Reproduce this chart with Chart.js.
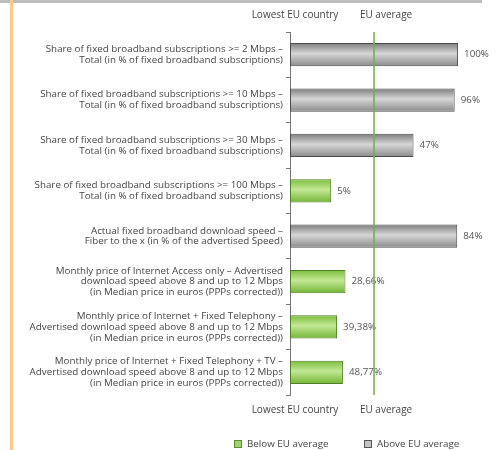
<!DOCTYPE html>
<html>
<head>
<meta charset="utf-8">
<script src="https://cdn.jsdelivr.net/npm/chart.js@4/dist/chart.umd.min.js"></script>
<style>
  html, body { margin: 0; padding: 0; background: #fff; }
  #wrap { width: 495px; height: 450px; position: relative; }
</style>
</head>
<body>
<div id="wrap"><canvas id="chart"></canvas></div>
<script>
'use strict'

// Data
const categories = [
    ['Share of fixed broadband subscriptions >= 2 Mbps –', 'Total (in % of fixed broadband subscriptions)'],
    ['Share of fixed broadband subscriptions >= 10 Mbps –', 'Total (in % of fixed broadband subscriptions)'],
    ['Share of fixed broadband subscriptions >= 30 Mbps –', 'Total (in % of fixed broadband subscriptions)'],
    ['Share of fixed broadband subscriptions >= 100 Mbps –', 'Total (in % of fixed broadband subscriptions)'],
    ['Actual fixed broadband download speed –', 'Fiber to the x (in % of the advertised Speed)'],
    ['Monthly price of Internet Access only – Advertised', 'download speed above 8 and up to 12 Mbps', '(in Median price in euros (PPPs corrected))'],
    ['Monthly price of Internet + Fixed Telephony –', 'Advertised download speed above 8 and up to 12 Mbps', '(in Median price in euros (PPPs corrected))'],
    ['Monthly price of Internet + Fixed Telephony + TV –', 'Advertised download speed above 8 and up to 12 Mbps', '(in Median price in euros (PPPs corrected))']
];
// position on the scale: 0 = lowest EU country, 100 = EU average
const scores = [200, 196, 147, 49, 199, 66, 56, 63];
const valueLabels = ['100%', '96%', '47%', '5%', '84%', '28,66%', '39,38%', '48,77%'];
const euAverage = 100;
const axisCaptions = ['Lowest EU country', 'EU average'];
const legendItems = ['Below EU average', 'Above EU average'];

const FONT = '"Open Sans", "Noto Sans", sans-serif';
const TEXT = '#464646';
const BAR_PCT = 0.51;

const isBelow = i => scores[i] < euAverage;

function barFill(ctx) {
    const chart = ctx.chart;
    const area = chart.chartArea;
    const below = isBelow(ctx.dataIndex);
    if (!area || !chart.scales.y) return below ? '#9fd46a' : '#aaa';
    const yc = chart.scales.y.getPixelForValue(ctx.dataIndex);
    const h = (area.bottom - area.top) / categories.length * BAR_PCT;
    const g = chart.ctx.createLinearGradient(0, yc - h / 2, 0, yc + h / 2);
    if (below) {
        g.addColorStop(0, '#7cbf3c');
        g.addColorStop(0.45, '#c2e895');
        g.addColorStop(1, '#73b534');
    } else {
        g.addColorStop(0, '#7d7d7d');
        g.addColorStop(0.45, '#d6d6d6');
        g.addColorStop(1, '#8a8a8a');
    }
    return g;
}

// frame, captions, EU line, values and legend
const decorations = {
    id: 'decorations',
    beforeDraw(chart) {
        const c = chart.ctx;
        c.save();
        c.fillStyle = '#bdbdbd';
        c.fillRect(0, 0, 482, 3);
        c.fillStyle = '#ffc98c';
        c.fillRect(10, 0, 3, chart.height);
        c.restore();
    },
    afterDatasetsDraw(chart) {
        const c = chart.ctx;
        const x = chart.scales.x;
        const area = chart.chartArea;
        const meta = chart.getDatasetMeta(0);
        c.save();
        c.font = '9.8px ' + FONT;
        c.fillStyle = '#555';
        c.textBaseline = 'middle';
        c.textAlign = 'left';
        meta.data.forEach((bar, i) => {
            c.fillText(valueLabels[i], bar.x + 6, bar.y);
        });

        const xe = x.getPixelForValue(euAverage);
        c.strokeStyle = '#6cb33e';
        c.lineWidth = 1.5;
        c.beginPath();
        c.moveTo(xe, area.top);
        c.lineTo(xe, area.bottom);
        c.stroke();

        const x0 = x.getPixelForValue(0);
        c.font = '10px ' + FONT;
        c.fillStyle = TEXT;
        c.textAlign = 'center';
        [15, area.bottom + 15].forEach(y => {
            c.fillText(axisCaptions[0], x0 + 5, y);
            c.fillText(axisCaptions[1], xe + 12, y);
        });

        // legend
        const ly = 444;
        const items = [
            {x: 234, fill: '#9fd46a', stroke: '#5d8f32', label: legendItems[0]},
            {x: 364, fill: '#c4c4c4', stroke: '#555', label: legendItems[1]}
        ];
        c.font = '9.8px ' + FONT;
        c.textAlign = 'left';
        items.forEach(it => {
            c.fillStyle = it.fill;
            c.fillRect(it.x, ly - 4, 8, 8);
            c.strokeStyle = it.stroke;
            c.lineWidth = 1;
            c.strokeRect(it.x + 0.5, ly - 3.5, 7, 7);
            c.fillStyle = TEXT;
            c.fillText(it.label, it.x + 13, ly);
        });
        c.restore();
    }
};

new Chart(document.getElementById('chart'), {
    type: 'bar',
    data: {
        labels: categories,
        datasets: [{
            data: scores,
            backgroundColor: barFill,
            borderColor: ctx => isBelow(ctx.dataIndex) ? '#4f7f26' : '#4d4d4d',
            borderWidth: 1,
            borderSkipped: false,
            barPercentage: BAR_PCT,
            categoryPercentage: 1
        }]
    },
    options: {
        indexAxis: 'y',
        responsive: true,
        maintainAspectRatio: false,
        animation: false,
        layout: {padding: {top: 32, bottom: 55, left: 0, right: 5}},
        plugins: {legend: {display: false}, tooltip: {enabled: false}},
        scales: {
            x: {display: false, min: 0, max: 238},
            y: {
                afterFit: scale => { scale.width = 290; },
                grid: {drawOnChartArea: false, tickLength: 4, color: '#777', offset: true},
                border: {color: '#777', width: 1},
                ticks: {
                    color: TEXT,
                    padding: 3,
                    font: {family: FONT, size: 9.8, lineHeight: 1.1}
                }
            }
        }
    },
    plugins: [decorations]
});
</script>
</body>
</html>
